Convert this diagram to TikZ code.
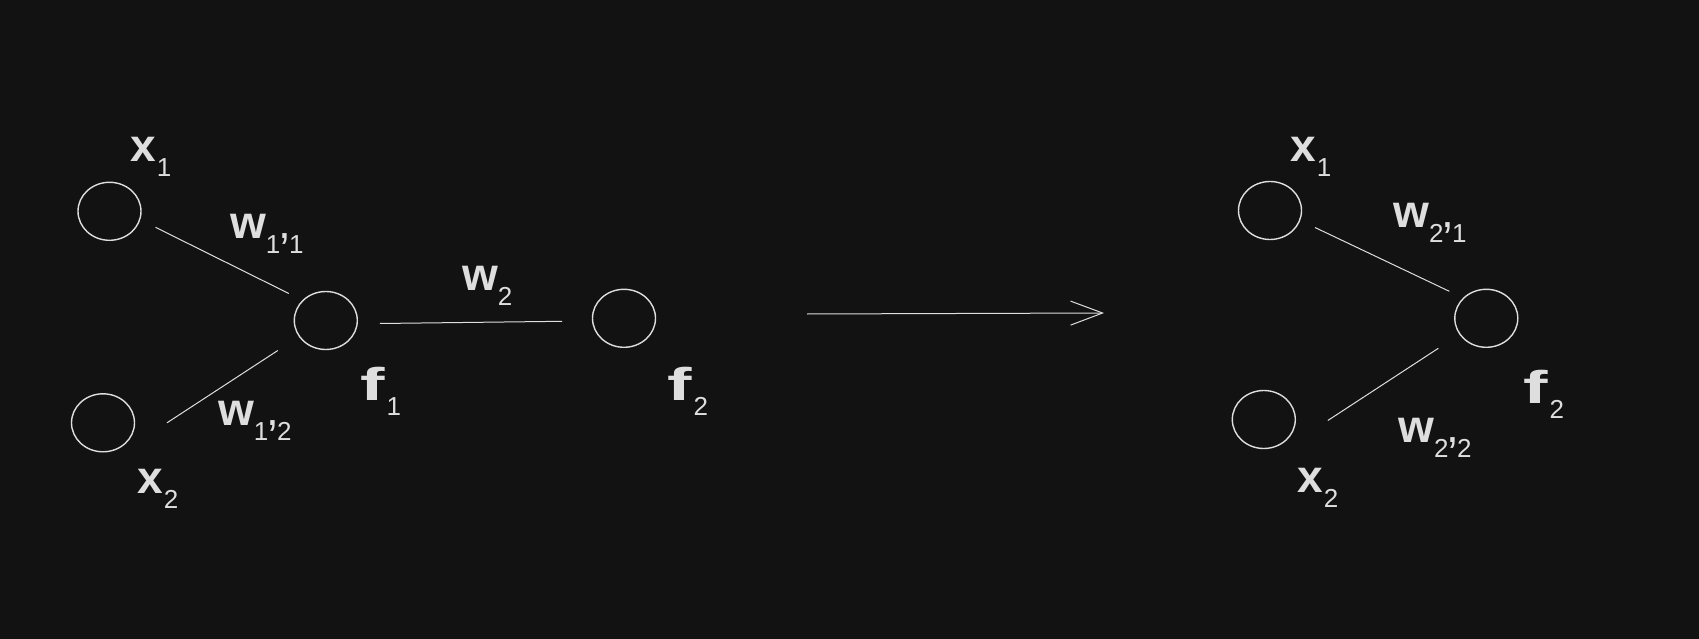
\documentclass[tikz,border=0pt]{standalone}
\usepackage{fontspec}
\setmainfont{Liberation Sans}
\usetikzlibrary{arrows.meta,shapes.geometric}
\definecolor{bg}{HTML}{121212}
\definecolor{ink}{HTML}{DEDEDE}
\newcommand{\bigfont}{\fontsize{46}{50}\selectfont}
\newcommand{\subf}[1]{\raisebox{-15pt}{\mdseries\fontsize{26}{28}\selectfont #1}}
\newcommand{\wideF}{\scalebox{1.6}[1]{f}}
\begin{document}
\begin{tikzpicture}[x=1pt,y=-1pt,
  neuron/.style={draw=ink, line width=1.4pt, ellipse, minimum width=63pt, minimum height=58pt, inner sep=0pt},
  edge/.style={draw=ink, line width=1pt},
  lbl/.style={text=ink, inner sep=0pt, anchor=base west, font=\bigfont\bfseries}]
\fill[bg] (0,0) rectangle (1699,639);
\useasboundingbox (0,0) rectangle (1699,639);

% left network
\node[neuron] (x1) at (109.5,211.3) {};
\node[neuron] (x2) at (103,422.8) {};
\node[neuron] (f1) at (325.8,320.5) {};
\node[neuron] (f2) at (624,318.3) {};

\draw[edge] ([shift={(46,16)}]x1.center) -- ([shift={(-37,-27)}]f1.center);
\draw[edge] ([shift={(64,0)}]x2.center) -- ([shift={(-48,30)}]f1.center);
\draw[edge] ([shift={(54,3)}]f1.center) -- ([shift={(-62,3)}]f2.center);

\node[lbl] (lx1) at (130,162) {x\kern1pt\subf{1}};
\node[lbl] (lw11) at (230,238) {w\subf{1}\kern-2pt{\mdseries,}\kern-2pt\subf{1}};
\node[lbl] (lw12) at (218,425) {w\subf{1}\kern-2pt{\mdseries,}\kern-2pt\subf{2}};
\node[lbl] (lx2) at (137,493) {x\kern1pt\subf{2}};
\node[lbl] (lf1) at (360,400) {\wideF\kern2pt\subf{1}};
\node[lbl] (lw2) at (462,290) {w\subf{2}};
\node[lbl] (lf2) at (667,400) {\wideF\kern2pt\subf{2}};

% transition arrow
\coordinate (arrS) at (807,314);
\coordinate (arrE) at (1104,313);
\draw[edge, -{Straight Barb[length=32pt,width=24pt]}] (arrS) -- (arrE);

% right network
\node[neuron] (rx1) at (1270,210.5) {};
\node[neuron] (rx2) at (1263.8,419.5) {};
\node[neuron] (rf2) at (1486.3,318.3) {};

\draw[edge] ([shift={(45,17)}]rx1.center) -- ([shift={(-37,-27)}]rf2.center);
\draw[edge] ([shift={(64,1)}]rx2.center) -- ([shift={(-48,30)}]rf2.center);

\node[lbl] (rlx1) at (1290,162) {x\kern1pt\subf{1}};
\node[lbl] (rlw21) at (1393,227) {w\subf{2}\kern-2pt{\mdseries,}\kern-2pt\subf{1}};
\node[lbl] (rlf2) at (1523,403) {\wideF\kern2pt\subf{2}};
\node[lbl] (rlw22) at (1398,442) {w\subf{2}\kern-2pt{\mdseries,}\kern-2pt\subf{2}};
\node[lbl] (rlx2) at (1297,492) {x\kern1pt\subf{2}};
\end{tikzpicture}
\end{document}
